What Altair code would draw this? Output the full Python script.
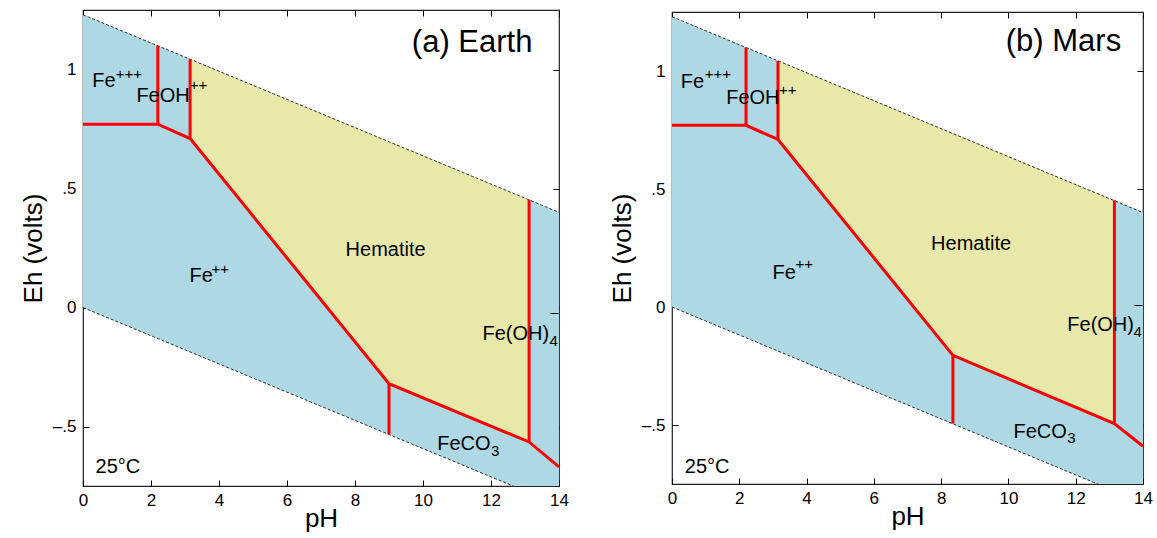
import altair as alt
import pandas as pd

FONT = "Liberation Sans"
BLUE = "#add8e4"
YELLOW = "#e8e8aa"
RED = "#ff0000"

# ---- axis ticks ----
x_ticks = [0, 2, 4, 6, 8, 10, 12, 14]
y_ticks = [-0.5, 0, 0.5, 1]
y_tick_text = ["\u2013.5", "0", ".5", "1"]

# ---- water stability limits ----
water_ph = [0, 14]
water_upper = [1.23, 0.40]
water_lower = [0.0, -0.83]

# ---- Earth boundaries ----
earth_main_ph = [0, 2.2, 3.15, 9.0, 13.12, 14]
earth_main_eh = [0.77, 0.77, 0.71, -0.32, -0.565, -0.67]
earth_v_ph = [2.2, 3.15, 9.0, 13.12]
earth_v_lo = [0.77, 0.71, -0.533, -0.565]
earth_v_hi = [1.10, 1.043, -0.32, 0.453]
earth_hem_ph = [3.15, 9.0, 13.12]
earth_hem_top = [1.043, 0.697, 0.453]
earth_hem_bot = [0.71, -0.32, -0.565]

# ---- Mars boundaries ----
mars_main_ph = [0, 2.2, 3.15, 8.35, 13.15, 14]
mars_main_eh = [0.77, 0.77, 0.71, -0.205, -0.494, -0.59]
mars_v_ph = [2.2, 3.15, 8.35, 13.15]
mars_v_lo = [0.77, 0.71, -0.494, -0.494]
mars_v_hi = [1.10, 1.043, -0.205, 0.452]
mars_hem_ph = [3.15, 8.35, 13.15]
mars_hem_top = [1.043, 0.736, 0.452]
mars_hem_bot = [0.71, -0.205, -0.494]

# ---- labels: text, pH, Eh ----
earth_lab_text = ["Fe", "FeOH", "Fe", "Fe(OH)", "FeCO", "25\u00b0C"]
earth_lab_ph = [0.27, 1.57, 3.13, 11.75, 10.42, 0.37]
earth_lab_eh = [0.925, 0.865, 0.107, -0.136, -0.60, -0.697]
earth_sup_text = ["+++", "++", "++", "4", "\u2013", "3"]
earth_sup_ph = [0.96, 3.14, 3.78, 13.72, 13.74, 12.0]
earth_sup_eh = [0.96, 0.912, 0.14, -0.16, -0.04, -0.625]
earth_mid = ("Hematite", 8.9, 0.218)
earth_title = ("(a) Earth", 13.22, 1.073)

mars_lab_text = ["Fe", "FeOH", "Fe", "Fe(OH)", "FeCO", "25\u00b0C"]
mars_lab_ph = [0.26, 1.61, 2.99, 11.75, 10.15, 0.38]
mars_lab_eh = [0.926, 0.862, 0.118, -0.103, -0.553, -0.702]
mars_sup_text = ["+++", "++", "++", "4", "\u2013", "3"]
mars_sup_ph = [0.975, 3.18, 3.67, 13.72, 13.74, 11.75]
mars_sup_eh = [0.967, 0.90, 0.159, -0.127, -0.007, -0.578]
mars_mid = ("Hematite", 8.89, 0.243)
mars_title = ("(b) Mars", 13.35, 1.086)

label_expr = "[" + ",".join("'%s'" % t for t in y_tick_text) + "][indexof([" + \
    ",".join(str(v) for v in y_ticks) + "], datum.value)]"

XS = alt.Scale(domain=[0, 14], nice=False, zero=False)
YS = alt.Scale(domain=[-0.75, 1.25], nice=False, zero=False)
TICK = {"expr": "-6"}


def panel(main_ph, main_eh, v_ph, v_lo, v_hi, hem_ph, hem_top, hem_bot,
          lab_text, lab_ph, lab_eh, sup_text, sup_ph, sup_eh, mid, title, w, h):
    water = pd.DataFrame({"ph": water_ph, "up": water_upper, "lo": water_lower})
    hem = pd.DataFrame({"ph": hem_ph, "top": hem_top, "bot": hem_bot})
    main = pd.DataFrame({"ph": main_ph, "eh": main_eh, "i": range(len(main_ph))})
    vert = pd.DataFrame({"ph": v_ph, "lo": v_lo, "hi": v_hi})
    labs = pd.DataFrame({"t": lab_text, "ph": lab_ph, "eh": lab_eh})
    sups = pd.DataFrame({"t": sup_text, "ph": sup_ph, "eh": sup_eh})
    mids = pd.DataFrame({"t": [mid[0]], "ph": [mid[1]], "eh": [mid[2]]})
    tits = pd.DataFrame({"t": [title[0]], "ph": [title[1]], "eh": [title[2]]})

    xa = alt.Axis(values=x_ticks, tickSize=TICK, labelPadding=12, title="pH",
                  domain=False, grid=False, titlePadding=-3, labelFlush=False)
    ya = alt.Axis(values=y_ticks, tickSize=TICK, labelPadding=13, title="Eh (volts)",
                  domain=False, grid=False, labelExpr=label_expr, titlePadding=6,
                  labelFlush=False)
    xt = alt.Axis(values=x_ticks, tickSize=TICK, labels=False, title=None,
                  domain=False, grid=False, orient="top")
    yr = alt.Axis(values=y_ticks, tickSize=TICK, labels=False, title=None,
                  domain=False, grid=False, orient="right")

    band = alt.Chart(water).mark_area(color=BLUE, clip=True, opacity=1).encode(
        x=alt.X("ph:Q", scale=XS, axis=xa),
        y=alt.Y("lo:Q", scale=YS, axis=ya),
        y2="up:Q",
    )
    mirror = alt.Chart(water).mark_line(opacity=0).encode(
        x=alt.X("ph:Q", scale=XS, axis=xt),
        y=alt.Y("up:Q", scale=YS, axis=yr),
    )
    hema = alt.Chart(hem).mark_area(color=YELLOW, opacity=1).encode(
        x=alt.X("ph:Q", scale=XS, axis=None),
        y=alt.Y("bot:Q", scale=YS, axis=None),
        y2="top:Q",
    )
    up_line = alt.Chart(water).mark_line(color="black", strokeWidth=0.8,
                                          strokeDash=[3, 2], clip=True).encode(
        x=alt.X("ph:Q", scale=XS, axis=None),
        y=alt.Y("up:Q", scale=YS, axis=None),
    )
    lo_line = alt.Chart(water).mark_line(color="black", strokeWidth=0.8,
                                          strokeDash=[3, 2], clip=True).encode(
        x=alt.X("ph:Q", scale=XS, axis=None),
        y=alt.Y("lo:Q", scale=YS, axis=None),
    )
    red_main = alt.Chart(main).mark_line(color=RED, strokeWidth=3, strokeJoin="miter").encode(
        x=alt.X("ph:Q", scale=XS, axis=None),
        y=alt.Y("eh:Q", scale=YS, axis=None),
        order="i:Q",
    )
    red_v = alt.Chart(vert).mark_rule(color=RED, strokeWidth=3).encode(
        x=alt.X("ph:Q", scale=XS, axis=None),
        y=alt.Y("lo:Q", scale=YS, axis=None),
        y2="hi:Q",
    )
    txt = alt.Chart(labs).mark_text(align="left", baseline="alphabetic", font=FONT,
                                    fontSize=20, color="black").encode(
        x=alt.X("ph:Q", scale=XS, axis=None),
        y=alt.Y("eh:Q", scale=YS, axis=None),
        text="t:N",
    )
    sup = alt.Chart(sups).mark_text(align="left", baseline="alphabetic", font=FONT,
                                    fontSize=15, color="black").encode(
        x=alt.X("ph:Q", scale=XS, axis=None),
        y=alt.Y("eh:Q", scale=YS, axis=None),
        text="t:N",
    )
    midt = alt.Chart(mids).mark_text(align="center", baseline="alphabetic", font=FONT,
                                     fontSize=20, color="black").encode(
        x=alt.X("ph:Q", scale=XS, axis=None),
        y=alt.Y("eh:Q", scale=YS, axis=None),
        text="t:N",
    )
    titt = alt.Chart(tits).mark_text(align="right", baseline="alphabetic", font=FONT,
                                     fontSize=31, color="black").encode(
        x=alt.X("ph:Q", scale=XS, axis=None),
        y=alt.Y("eh:Q", scale=YS, axis=None),
        text="t:N",
    )
    return alt.layer(band, hema, up_line, lo_line, red_main, red_v, txt, sup, midt, titt,
                     mirror).resolve_axis(x="independent", y="independent").properties(
        width=w, height=h)


earth = panel(earth_main_ph, earth_main_eh, earth_v_ph, earth_v_lo, earth_v_hi,
              earth_hem_ph, earth_hem_top, earth_hem_bot,
              earth_lab_text, earth_lab_ph, earth_lab_eh,
              earth_sup_text, earth_sup_ph, earth_sup_eh, earth_mid, earth_title, 476, 476)
mars = panel(mars_main_ph, mars_main_eh, mars_v_ph, mars_v_lo, mars_v_hi,
             mars_hem_ph, mars_hem_top, mars_hem_bot,
             mars_lab_text, mars_lab_ph, mars_lab_eh,
             mars_sup_text, mars_sup_ph, mars_sup_eh, mars_mid, mars_title, 471, 472)

chart = alt.hconcat(earth, mars, spacing=113, bounds="flush", center=True).properties(
    padding={"left": 19, "top": 8, "right": 0, "bottom": 5},
    background="white",
).configure_view(stroke="#222", strokeWidth=1.2).configure_axis(
    labelFont=FONT, titleFont=FONT, labelFontSize=17, titleFontSize=26,
    titleFontWeight="normal", labelColor="black", titleColor="black",
    tickColor="black", tickWidth=1,
)

chart.save("out.html", embed_options={"renderer": "svg", "actions": False})
